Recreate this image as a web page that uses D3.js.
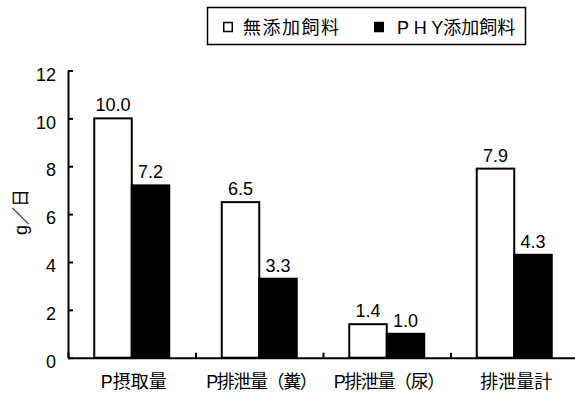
<!DOCTYPE html>
<html>
<head>
<meta charset="utf-8">
<script src="https://cdn.jsdelivr.net/npm/d3@7"></script>
<style>
  html, body { margin: 0; padding: 0; background: #fff; }
  svg { display: block; }
  text { font-family: "Liberation Sans", Arial, "Noto Sans CJK JP", sans-serif; fill: #000; }
</style>
</head>
<body>
<svg id="chart" width="575" height="398"></svg>
<script>
// Phosphorus intake and excretion (g/day) per feed type
const categories = ["P摂取量", "P排泄量（糞）", "P排泄量（尿）", "排泄量計"];
const seriesNames = ["無添加飼料", "P H Y添加飼料"];
const controlValues = [10.0, 6.5, 1.4, 7.9];
const phyValues = [7.2, 3.3, 1.0, 4.3];
const yTicks = [0, 2, 4, 6, 8, 10, 12];
const yLabel = "g／日";

const svg = d3.select("#chart");
const plotLeft = 68, plotRight = 578, plotTop = 70.5, plotBottom = 357.7;

const y = d3.scaleLinear().domain([0, 12]).range([plotBottom, plotTop]);
const x0 = d3.scaleBand().domain(categories).range([plotLeft, plotRight]).paddingInner(0).paddingOuter(0);
const x1 = d3.scaleBand().domain(seriesNames).range([0, x0.bandwidth()]).paddingInner(0).paddingOuter(0.7);
const fills = ["#fff", "#000"];

const rows = categories.map((c, i) => ({ cat: c, vals: [controlValues[i], phyValues[i]] }));

// bars
const groups = svg.append("g").selectAll("g").data(rows).join("g")
  .attr("transform", d => `translate(${x0(d.cat)},0)`);
groups.selectAll("rect").data(d => d.vals.map((v, k) => ({ v, k })))
  .join("rect")
  .attr("x", d => x1(seriesNames[d.k]))
  .attr("y", d => y(d.v))
  .attr("width", x1.bandwidth())
  .attr("height", d => y(0) - y(d.v))
  .attr("fill", d => fills[d.k])
  .attr("stroke", "#000")
  .attr("stroke-width", 2);

// value labels
groups.selectAll("text.val").data(d => d.vals.map((v, k) => ({ v, k })))
  .join("text")
  .attr("class", "val")
  .attr("x", d => x1(seriesNames[d.k]) + x1.bandwidth() / 2)
  .attr("y", d => y(d.v) - 7)
  .attr("text-anchor", "middle")
  .attr("font-size", 18)
  .text(d => d.v.toFixed(1));

// y axis
const yAxis = d3.axisLeft(y).tickValues(yTicks).tickSizeInner(-5).tickSizeOuter(0).tickPadding(12)
  .tickFormat(d3.format("d"));
const gy = svg.append("g").attr("transform", `translate(${plotLeft},0)`).call(yAxis);
gy.attr("font-family", null);
gy.select(".domain").attr("stroke", "#000").attr("stroke-width", 2);
gy.selectAll(".tick line").attr("stroke", "#000").attr("stroke-width", 2);
gy.selectAll(".tick text").attr("font-size", 18).attr("dy", "0.54em");

// x axis with ticks at category boundaries
const xb = d3.scaleLinear().domain([0, categories.length]).range([plotLeft, plotRight]);
const xAxis = d3.axisBottom(xb).tickValues(d3.range(categories.length + 1)).tickSizeInner(-5).tickSizeOuter(0)
  .tickFormat("");
const gx = svg.append("g").attr("transform", `translate(0,${plotBottom})`).call(xAxis);
gx.select(".domain").attr("stroke", "#000").attr("stroke-width", 2);
gx.selectAll(".tick line").attr("stroke", "#000").attr("stroke-width", 2);

// category labels
svg.append("g").selectAll("text").data(categories).join("text")
  .attr("x", d => x0(d) + x0.bandwidth() / 2 + 2)
  .attr("y", 388)
  .attr("text-anchor", "middle")
  .attr("font-size", 18)
  .attr("letter-spacing", d => d.includes("（") ? -1.4 : 0)
  .text(d => d);

// y axis title
svg.append("text")
  .attr("transform", `translate(27,212) rotate(-90)`)
  .attr("text-anchor", "middle")
  .attr("font-size", 18)
  .attr("fill", "#000")
  .text(yLabel);

// legend
const lg = svg.append("g");
lg.append("rect").attr("x", 207.5).attr("y", 7.5).attr("width", 318).attr("height", 37)
  .attr("fill", "#fff").attr("stroke", "#000").attr("stroke-width", 1.5);
const legendItems = [
  { name: seriesNames[0], sx: 223, tx: 243 },
  { name: seriesNames[1], sx: 374, tx: 397 }
];
legendItems.forEach((it, k) => {
  lg.append("rect").attr("x", it.sx + 0.75).attr("y", 22.5).attr("width", 8.5).attr("height", 9)
    .attr("fill", fills[k]).attr("stroke", "#000").attr("stroke-width", 1.5);
  lg.append("text").attr("x", it.tx).attr("y", 34).attr("font-size", 18)
    .attr("letter-spacing", k === 0 ? 1.5 : 0)
    .text(it.name);
});
</script>
</body>
</html>
